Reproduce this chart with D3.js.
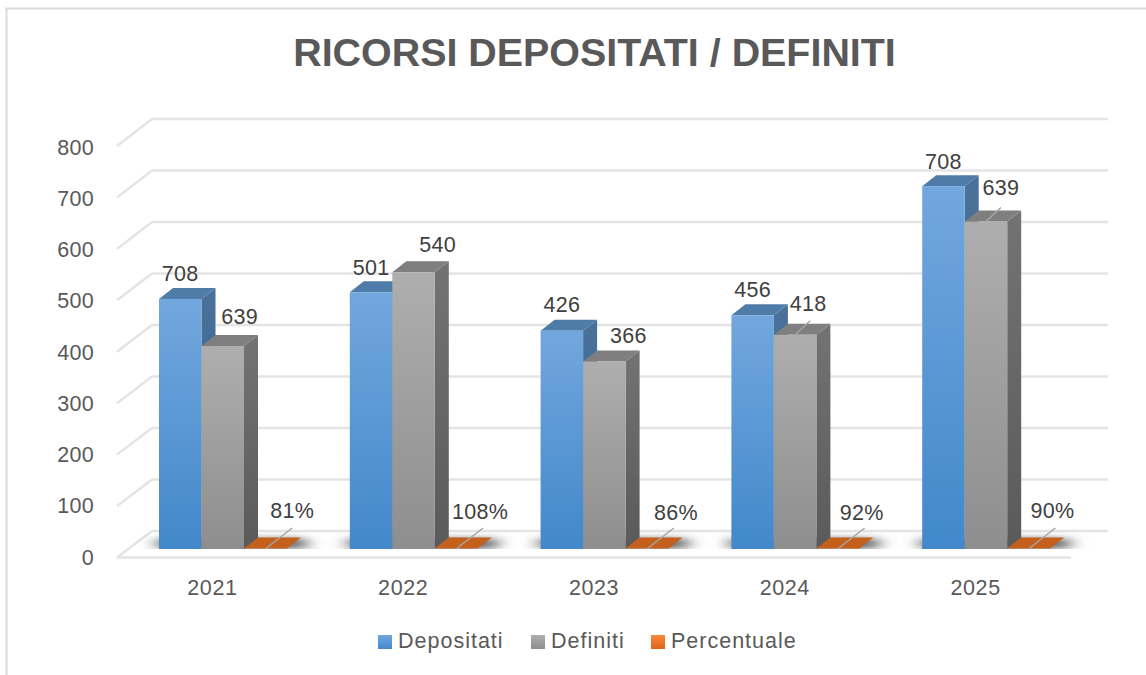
<!DOCTYPE html>
<html><head><meta charset="utf-8">
<script src="https://cdn.jsdelivr.net/npm/d3@7"></script>
<style>html,body{margin:0;padding:0;background:#fff}svg{display:block}text{font-family:"Liberation Sans",Arial,sans-serif}</style>
</head><body><svg id="c" width="1146" height="675"></svg>
<script>
const chartTitle = "RICORSI DEPOSITATI / DEFINITI";
const years = ["2021","2022","2023","2024","2025"];
const seriesNames = ["Depositati","Definiti","Percentuale"];
const yTicks = [0,100,200,300,400,500,600,700,800];
// drawn heights (2021 bars are drawn lower than their printed labels in the source)
const depositatiHeights = [488,501,426,456,708];
const definitiHeights = [396,540,366,418,639];
const percentualeHeights = [0.81,1.08,0.86,0.92,0.90];
const depositatiLabels = ["708","501","426","456","708"];
const definitiLabels = ["639","540","366","418","639"];
const percentualeLabels = ["81%","108%","86%","92%","90%"];

const W=1146,H=675;
const svg=d3.select("#c");
const defs=svg.append("defs");
function grad(id,a,b){const g=defs.append("linearGradient").attr("id",id).attr("x1",0).attr("y1",0).attr("x2",0).attr("y2",1);
 g.append("stop").attr("offset",0).attr("stop-color",a);g.append("stop").attr("offset",1).attr("stop-color",b);}
grad("gBlue","#72a7de","#4288ca");grad("gGray","#aeaeae","#8e8e8e");grad("gOrange","#f98a3c","#e0641a");
grad("gBlueS","#4a7199","#2f6594");grad("gGrayS","#737373","#5a5a5a");
defs.append("filter").attr("id","blur").attr("x","-30%").attr("y","-150%").attr("width","160%").attr("height","400%")
 .append("feGaussianBlur").attr("stdDeviation","9 3.5");
defs.append("clipPath").attr("id","floorClip").append("rect").attr("x",0).attr("y",500).attr("width",W).attr("height",49);

// frame
svg.append("path").attr("d","M6.5,675V8.5H1146").attr("fill","none").attr("stroke","#d9d9d9").attr("stroke-width",2);

const yBack=d3.scaleLinear().domain([0,800]).range([531,119]);
const yFront=d3.scaleLinear().domain([0,800]).range([557.5,146]);
const yBar=d3.scaleLinear().domain([0,800]).range([549,139]);
const x0=d3.scaleBand().domain(years).range([117,1071]);
const x1=d3.scaleBand().domain(seriesNames).range([42,169.5]);
const dX=14,dY=-11;

// grid
const grid=svg.append("g").attr("stroke","#e4e4e4").attr("stroke-width",2.4).attr("fill","none");
yTicks.forEach(t=>{
 grid.append("line").attr("x1",152).attr("x2",1108).attr("y1",yBack(t)).attr("y2",yBack(t));
 grid.append("line").attr("x1",117).attr("x2",152).attr("y1",yFront(t)).attr("y2",yBack(t));
});
grid.append("line").attr("x1",117).attr("x2",1071).attr("y1",yFront(0)).attr("y2",yFront(0));

// y tick labels
const yLab=d3.scaleLinear().domain([0,800]).range([557,147]);
svg.append("g").selectAll("text").data(yTicks).join("text")
 .attr("x",94).attr("y",d=>yLab(d)).attr("dy","0.36em").attr("text-anchor","end")
 .attr("font-size",21.5).attr("letter-spacing",0.3).attr("fill","#595959").text(d=>d);

// category labels
svg.append("g").selectAll("text").data(years).join("text")
 .attr("x",d=>x0(d)+x0.bandwidth()/2).attr("y",587).attr("dy","0.36em").attr("text-anchor","middle")
 .attr("font-size",21.5).attr("letter-spacing",0.6).attr("fill","#595959").text(d=>d);

// shadows of flat bars
const sh=svg.append("g").attr("clip-path","url(#floorClip)");
years.forEach(y=>{
 sh.append("rect").attr("x",x0(y)+x1("Depositati")-1).attr("y",539).attr("width",148).attr("height",9)
  .attr("fill","#505050").attr("filter","url(#blur)");
});

function box(g,x,w,v,front,side,top){
 const t=yBar(v),b=yBar(0);
 g.append("path").attr("d",`M${x+w},${t}L${x+w+dX},${t+dY}V${b+dY}L${x+w},${b}Z`).attr("fill",side);
 g.append("path").attr("d",`M${x},${t}L${x+dX},${t+dY}H${x+w+dX}L${x+w},${t}Z`).attr("fill",top);
 if(b-t>1) g.append("rect").attr("x",x).attr("y",t).attr("width",w).attr("height",b-t).attr("fill",front);
}
const bars=svg.append("g");
years.forEach((y,i)=>{
 const g=bars.append("g");
 const w=x1.bandwidth();
 box(g,x0(y)+x1("Depositati"),w,depositatiHeights[i],"url(#gBlue)","url(#gBlueS)","#4f7ba8");
 box(g,x0(y)+x1("Definiti"),w,definitiHeights[i],"url(#gGray)","url(#gGrayS)","#7f7f7f");
 box(g,x0(y)+x1("Percentuale"),w,percentualeHeights[i],"#c55f1c","#c55f1c","#c55f1c");
});

// data labels (pixel nudges from the bar's front-top centre)
const lab=svg.append("g");
function label(x,y,s){lab.append("text").attr("x",x).attr("y",y).attr("dy","0.36em").attr("text-anchor","middle")
 .attr("font-size",21.5).attr("letter-spacing",0.3).attr("fill","#404040").text(s);}
function leader(x1_,y1_,x2_,y2_){lab.append("line").attr("x1",x1_).attr("y1",y1_).attr("x2",x2_).attr("y2",y2_).attr("stroke","#a6a6a6").attr("stroke-width",1.5);}
const depNudge=[[0,-26],[0,-25],[0,-26],[0,-26],[0,-25]];
const defNudge=[[17,-30],[24,-28],[24,-26],[13,-32],[15,-34]];
const pctNudge=[[26,-39],[23,-38],[28,-37],[23,-37],[23,-39]];
years.forEach((y,i)=>{
 const w=x1.bandwidth();
 const a=x0(y)+x1("Depositati")+w/2,b=x0(y)+x1("Definiti")+w/2,c=x0(y)+x1("Percentuale")+w/2;
 label(a+depNudge[i][0],yBar(depositatiHeights[i])+depNudge[i][1],depositatiLabels[i]);
 label(b+defNudge[i][0],yBar(definitiHeights[i])+defNudge[i][1],definitiLabels[i]);
 leader(c,yBar(0),c+27,yBar(0)-21);
 label(c+pctNudge[i][0]+1,yBar(0)+pctNudge[i][1],percentualeLabels[i]);
 if(i>=3){const tt=yBar(definitiHeights[i]);leader(b,tt,b+15,tt-14);}
});

// title
svg.append("text").attr("x",594.5).attr("y",52).attr("dy","0.36em").attr("text-anchor","middle")
 .attr("font-size",39.4).attr("font-weight",700).attr("fill","#595959").text(chartTitle);

// legend
const legendColors=["url(#gBlue)","url(#gGray)","url(#gOrange)"];
const legendX=[378,531,651];
const lg=svg.append("g");
seriesNames.forEach((n,i)=>{
 lg.append("rect").attr("x",legendX[i]).attr("y",635).attr("width",14).attr("height",14).attr("fill",legendColors[i]);
 lg.append("text").attr("x",legendX[i]+20).attr("y",640).attr("dy","0.36em").attr("font-size",21.5).attr("letter-spacing",1).attr("fill","#595959").text(n);
});
</script></body></html>
